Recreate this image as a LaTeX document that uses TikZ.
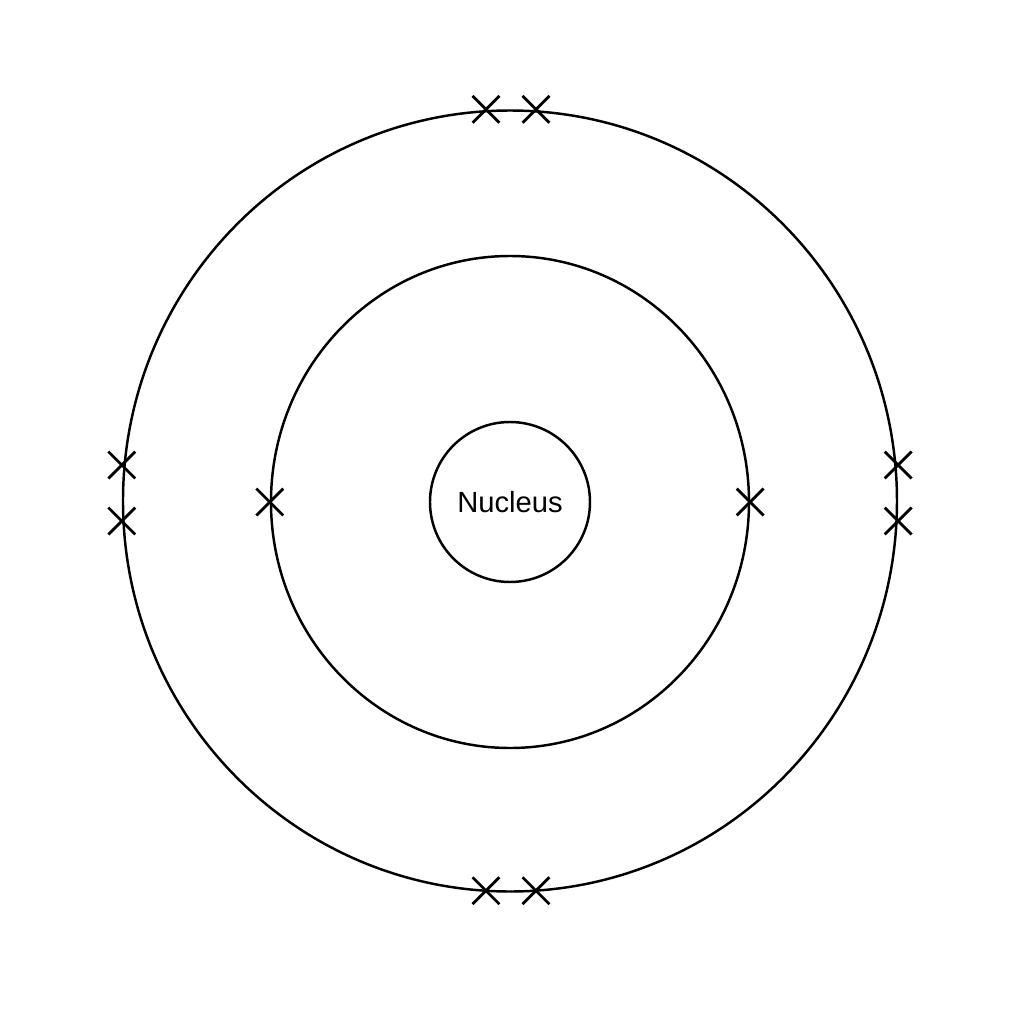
\documentclass[tikz,border=0pt]{standalone}
\usepackage{fontspec}
\setmainfont{Liberation Sans}
\usetikzlibrary{shapes.geometric,shapes.misc,calc}

\begin{document}
\begin{tikzpicture}[line width=1.4pt,
  shell/.style={draw,ellipse,inner sep=0pt},
  electron/.style={draw,cross out,inner sep=0pt,minimum size=0.48cm,line width=1.6pt}]
\useasboundingbox (-10.2,-10.44) rectangle (10.28,10.04);
\node[draw,circle,inner sep=0pt,minimum size=3.2cm,font=\fontsize{16.6}{20}\selectfont] (nuc) at (0,0) {Nucleus};
\node[shell,minimum width=9.56cm,minimum height=9.84cm] (inner) at (nuc.center) {};
\node[shell,minimum width=15.48cm,minimum height=15.62cm] (outer) at (0,0.02) {};
\node[electron] (e1) at (inner.west) {};
\node[electron] (e2) at (inner.east) {};
\node[electron] (e3) at ($(outer.north)+(-0.48,0)$) {};
\node[electron] (e4) at ($(outer.north)+(0.52,0)$) {};
\node[electron] (e5) at ($(outer.south)+(-0.48,0.04)$) {};
\node[electron] (e6) at ($(outer.south)+(0.52,0.04)$) {};
\node[electron] (e7) at ($(outer.west)+(0,0.72)$) {};
\node[electron] (e8) at ($(outer.west)+(0,-0.40)$) {};
\node[electron] (e9) at ($(outer.east)+(0,0.72)$) {};
\node[electron] (e10) at ($(outer.east)+(0,-0.40)$) {};
\end{tikzpicture}
\end{document}
